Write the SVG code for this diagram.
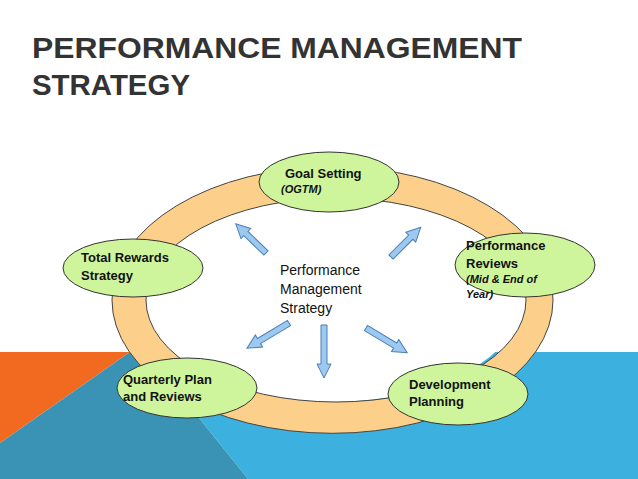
<svg xmlns="http://www.w3.org/2000/svg" width="638" height="479" viewBox="0 0 638 479">
<style>
.n{fill:#cff59c;stroke:#333;stroke-width:1}
.t{font-family:"Liberation Sans",Arial,sans-serif;font-size:13px;font-weight:bold;fill:#111}
.i{font-family:"Liberation Sans",Arial,sans-serif;font-size:11px;font-weight:bold;font-style:italic;fill:#111}
.c{font-family:"Liberation Sans",Arial,sans-serif;font-size:14px;fill:#111}
.h{font-family:"Liberation Sans",Arial,sans-serif;font-size:29px;font-weight:bold;fill:#333}
.a{fill:#9cc9f0;stroke:#4a7db5;stroke-width:1}
</style>
<rect width="638" height="479" fill="#fff"/>
<polygon points="146,352 638,352 638,479 248,479" fill="#3cb1e0"/>
<polygon points="0,352 130,352 0,443" fill="#f26a1f"/>
<polygon points="130,352 146,352 248,479 0,479 0,443" fill="#3a93b4"/>
<text class="h" x="32" y="58" textLength="490" lengthAdjust="spacingAndGlyphs">PERFORMANCE MANAGEMENT</text>
<text class="h" x="32" y="95" textLength="158" lengthAdjust="spacingAndGlyphs">STRATEGY</text>
<ellipse cx="332" cy="300" rx="190" ry="102" fill="#fff"/>
<path d="M112,300 a220,133 0 1,0 441,0 a220,133 0 1,0 -441,0 Z M146,300 a190,102 0 1,1 380,0 a190,102 0 1,1 -380,0 Z" fill="#fcd08a" fill-rule="evenodd" stroke="#444" stroke-width="1"/>
<g id="connectors">
<path class="a" d="M0,-3 L-28,-3 L-28,-7 L-42,0 L-28,7 L-28,3 L0,3 Z" transform="translate(266,253) rotate(44)"/>
<path class="a" d="M0,-3 L-28,-3 L-28,-7 L-42,0 L-28,7 L-28,3 L0,3 Z" transform="translate(391,257) rotate(135)"/>
<path class="a" d="M0,-3 L-35,-3 L-35,-7 L-49,0 L-35,7 L-35,3 L0,3 Z" transform="translate(289,323) rotate(-31)"/>
<path class="a" d="M0,-3 L-39,-3 L-39,-7 L-53,0 L-39,7 L-39,3 L0,3 Z" transform="translate(324,325) rotate(-90)"/>
<path class="a" d="M0,-3 L-34,-3 L-34,-7 L-48,0 L-34,7 L-34,3 L0,3 Z" transform="translate(366,328) rotate(-149)"/>
</g>
<g id="goal"><ellipse class="n" cx="329" cy="182" rx="70" ry="30"/><text class="t" x="285" y="178">Goal Setting</text><text class="i" x="281" y="193">(OGTM)</text></g>
<g id="rewards"><ellipse class="n" cx="133" cy="268" rx="70" ry="29"/><text class="t" x="81" y="262">Total Rewards</text><text class="t" x="81" y="280">Strategy</text></g>
<g id="reviews"><ellipse class="n" cx="525" cy="265" rx="70" ry="32"/><text class="t" x="466" y="250">Performance</text><text class="t" x="466" y="268">Reviews</text><text class="i" x="466" y="283">(Mid &amp; End of</text><text class="i" x="466" y="298">Year)</text></g>
<g id="center"><text class="c" x="280" y="275">Performance</text><text class="c" x="280" y="294">Management</text><text class="c" x="280" y="313">Strategy</text></g>
<g id="quarterly"><ellipse class="n" cx="187" cy="388" rx="70" ry="30"/><text class="t" x="123" y="384">Quarterly Plan</text><text class="t" x="123" y="401">and Reviews</text></g>
<g id="development"><ellipse class="n" cx="458" cy="394" rx="70" ry="31"/><text class="t" x="409" y="389">Development</text><text class="t" x="409" y="406">Planning</text></g>
</svg>
